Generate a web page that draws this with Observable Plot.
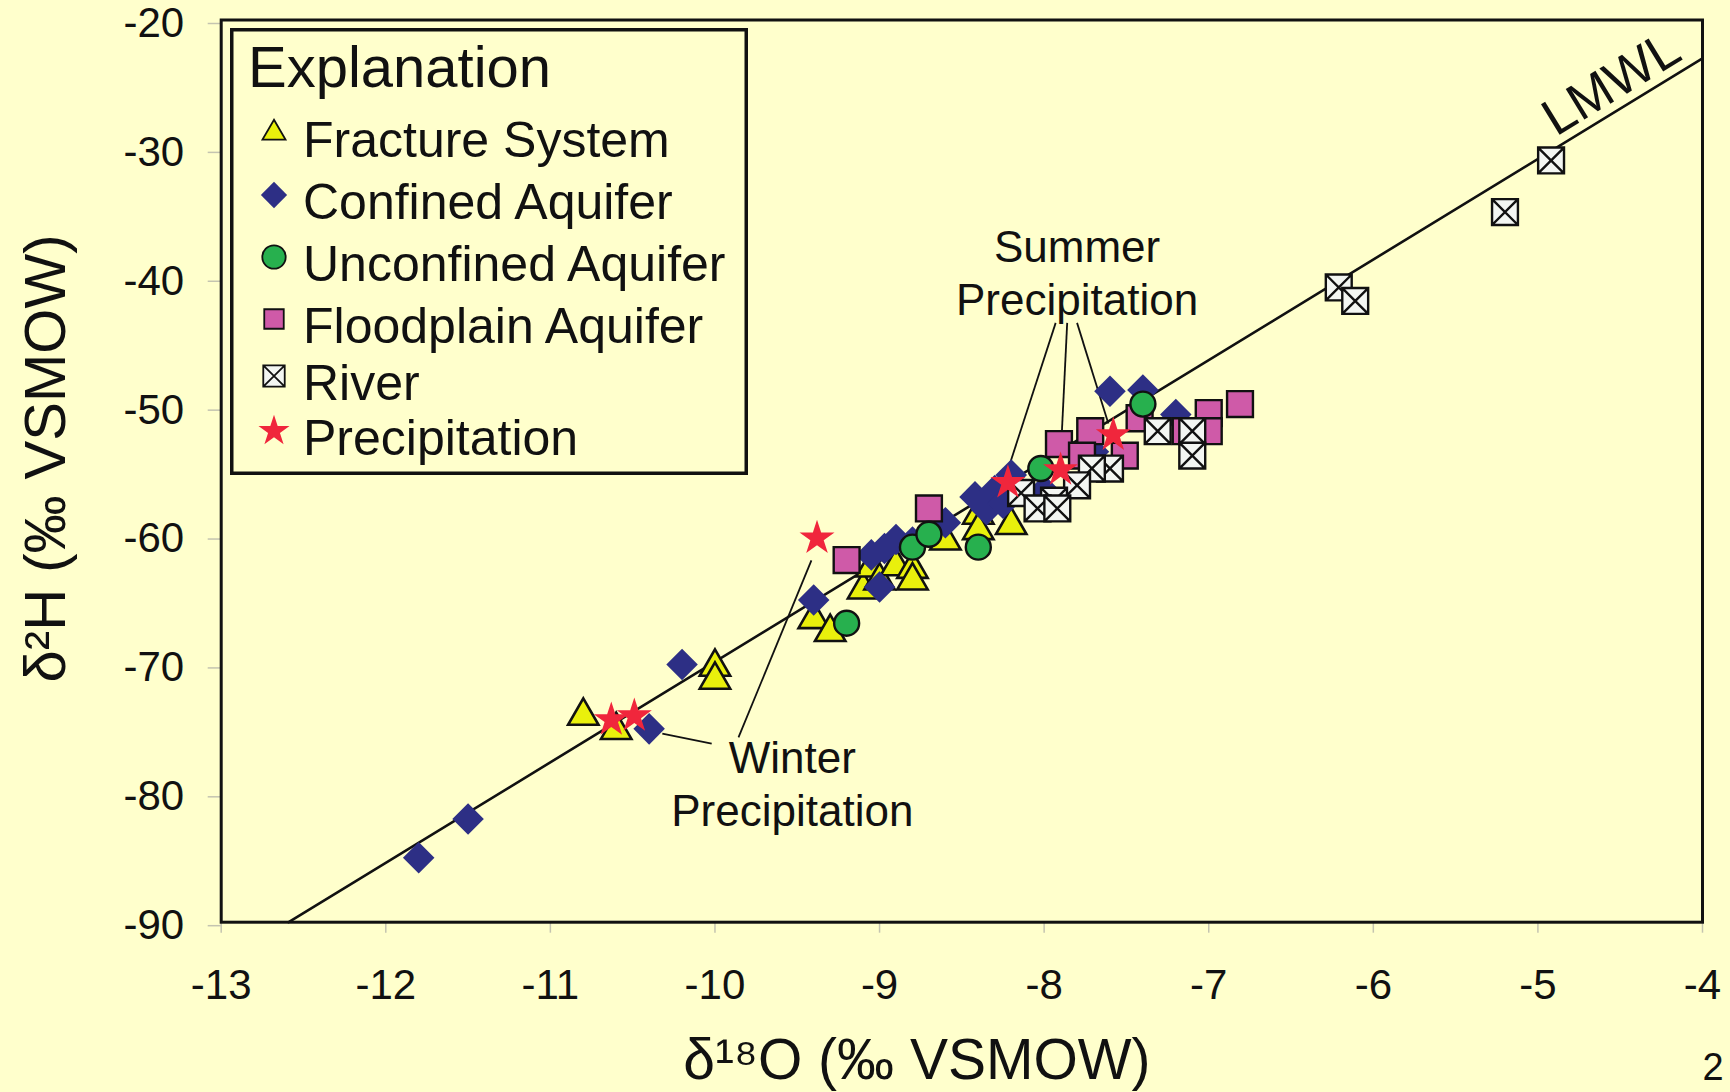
<!DOCTYPE html>
<html>
<head>
<meta charset="utf-8">
<script src="https://cdn.jsdelivr.net/npm/d3@7"></script>
<script src="https://cdn.jsdelivr.net/npm/@observablehq/plot@0.6"></script>
<style>
  html, body { margin: 0; padding: 0; background: #ffffcc; }
  #wrap { position: relative; width: 1730px; height: 1092px; overflow: hidden; background: #ffffcc; }
  #legend { position: absolute; left: 230px; top: 28px; }
</style>
</head>
<body>
<div id="wrap"></div>
<script>
// ---------- data ----------
const fractureX = [-10.8, -10.6, -10.0, -10.0, -9.4, -9.3, -9.1, -9.05, -9.0, -8.9, -8.8, -8.8, -8.6, -8.4, -8.4, -8.2];
const fractureY = [-74.0, -75.1, -70.2, -71.2, -66.5, -67.5, -64.2, -62.5, -63.5, -62.4, -62.6, -63.5, -60.4, -58.4, -59.6, -59.2];

const confinedX = [-11.8, -11.5, -10.4, -10.2, -9.4, -9.0, -9.05, -8.97, -8.9, -8.8, -8.6, -8.42, -8.35, -8.3, -8.25, -8.2, -8.0, -7.7, -7.6, -7.4, -7.2];
const confinedY = [-85.0, -82.0, -75.0, -70.0, -65.0, -64.0, -61.5, -61.0, -60.3, -60.5, -59.0, -57.0, -58.0, -56.5, -57.5, -55.3, -56.5, -53.5, -48.8, -48.7, -50.6];

const floodX = [-9.2, -8.7, -7.91, -7.72, -7.77, -7.51, -7.42, -7.14, -7.0, -7.0, -6.81];
const floodY = [-61.9, -57.9, -52.9, -51.9, -53.8, -53.8, -50.9, -51.9, -50.5, -51.9, -49.8];

const unconfinedX = [-9.2, -8.8, -8.7, -8.4, -8.02, -7.4];
const unconfinedY = [-66.8, -60.9, -59.9, -60.9, -54.8, -49.8];

const riverX = [-4.92, -5.2, -6.21, -6.11, -7.31, -7.1, -7.1, -7.6, -7.71, -7.8, -7.94, -8.14, -8.04, -7.92];
const riverY = [-30.9, -34.9, -40.75, -41.8, -51.9, -51.9, -53.8, -54.8, -54.8, -56.1, -57.3, -56.7, -57.9, -57.9];

const precipX = [-10.63, -10.49, -9.38, -8.22, -7.9, -7.58];
const precipY = [-74.3, -74.0, -60.2, -55.9, -54.9, -52.2];

// Local meteoric water line end points
const lmwlX = [-12.59, -4.0];
const lmwlY = [-90.0, -22.98];

// Axis ticks
const xTicks = [-13, -12, -11, -10, -9, -8, -7, -6, -5, -4];
const yTicks = [-90, -80, -70, -60, -50, -40, -30, -20];

// Annotations (data coordinates)
const noteText = ["Summer\nPrecipitation", "Winter\nPrecipitation"];
const noteX = [-7.80, -9.53];
const noteY = [-39.55, -79.19];

const leaderX1 = [-7.93, -7.86, -7.80, -9.857, -10.02];
const leaderY1 = [-43.5, -43.5, -43.5, -75.66, -76.15];
const leaderX2 = [-8.21, -7.90, -7.61, -9.414, -10.32];
const leaderY2 = [-54.5, -54.0, -51.3, -61.93, -75.37];

const lmwlLabel = "LMWL";
const lmwlLabelX = [-4.553];
const lmwlLabelY = [-24.93];

const xLabel = "δ¹⁸O (‰ VSMOW)";
const yLabel = "δ²H (‰ VSMOW)";
const pageNumber = "2";
const legendTitle = "Explanation";
const seriesNames = ["Fracture System", "Confined Aquifer", "Unconfined Aquifer", "Floodplain Aquifer", "River", "Precipitation"];

// ---------- build ----------
const pts = (xs, ys) => xs.map((x, i) => ({x, y: ys[i]}));
const fracture = pts(fractureX, fractureY);
const confined = pts(confinedX, confinedY);
const flood = pts(floodX, floodY);
const unconfined = pts(unconfinedX, unconfinedY);
const river = pts(riverX, riverY);
const precip = pts(precipX, precipY);
const lmwl = pts(lmwlX, lmwlY);
const notes = noteText.map((t, i) => ({t, x: noteX[i], y: noteY[i]}));
const leaders = leaderX1.map((x1, i) => ({x1, y1: leaderY1[i], x2: leaderX2[i], y2: leaderY2[i]}));

// boxed X symbol for river samples
const boxX = {
  draw(ctx, size) {
    const h = Math.sqrt(size) / 2;
    ctx.moveTo(-h, -h); ctx.lineTo(h, -h); ctx.lineTo(h, h); ctx.lineTo(-h, h); ctx.closePath();
    ctx.moveTo(-h, -h); ctx.lineTo(h, h);
    ctx.moveTo(h, -h); ctx.lineTo(-h, h);
  }
};

const FONT = "'Liberation Sans', Arial, Helvetica, sans-serif";
const INK = "#111";

const styles = {
  fracture: {symbol: d3.symbolTriangle, fill: "#e9f00c", stroke: INK, strokeWidth: 2.6},
  confined: {symbol: d3.symbolDiamond2, fill: "#2d2f85", stroke: "none", strokeWidth: 0},
  unconfined: {symbol: d3.symbolCircle, fill: "#27b04e", stroke: INK, strokeWidth: 2.4},
  flood: {symbol: d3.symbolSquare, fill: "#cf5aa8", stroke: INK, strokeWidth: 2.4},
  river: {symbol: boxX, fill: "#f3f6f2", stroke: INK, strokeWidth: 2.4},
  precip: {symbol: d3.symbolStar, fill: "#f0263c", stroke: "none", strokeWidth: 0}
};

const chart = Plot.plot({
  width: 1730,
  height: 1092,
  marginTop: 19.5,
  marginBottom: 170.3,
  marginLeft: 220.7,
  marginRight: 28,
  x: {domain: [-13, -4]},
  y: {domain: [-90, -20]},
  style: {background: "#ffffcc", fontFamily: FONT, color: INK, overflow: "hidden"},
  marks: [
    Plot.axisX({ticks: xTicks, tickFormat: d => String(d), tickSize: 11, tickPadding: 36, fontSize: 42, label: null, stroke: "#c4c4b0", strokeWidth: 1.5, fill: INK}),
    Plot.axisY({ticks: yTicks, tickFormat: d => String(d), tickSize: 13, tickPadding: 24, fontSize: 42, label: null, dy: 3.5, stroke: "#c4c4b0", strokeWidth: 1.5, fill: INK}),
    Plot.line(lmwl, {x: "x", y: "y", stroke: INK, strokeWidth: 2.6}),
    Plot.link(leaders, {x1: "x1", y1: "y1", x2: "x2", y2: "y2", stroke: INK, strokeWidth: 1.8}),
    Plot.dot(fracture, {x: "x", y: "y", r: 11.3, ...styles.fracture}),
    Plot.dot(confined, {x: "x", y: "y", r: 14.2, ...styles.confined}),
    Plot.dot(flood, {x: "x", y: "y", r: 14.6, ...styles.flood}),
    Plot.dot(unconfined, {x: "x", y: "y", r: 12.5, ...styles.unconfined}),
    Plot.dot(river, {x: "x", y: "y", r: 14.6, ...styles.river}),
    Plot.dot(precip, {x: "x", y: "y", r: 11, ...styles.precip}),
    Plot.text(notes, {x: "x", y: "y", text: "t", fontSize: 44, lineHeight: 1.2, textAnchor: "middle", fill: INK}),
    Plot.text([lmwlLabel], {x: lmwlLabelX, y: lmwlLabelY, text: d => d, rotate: -31.4, fontSize: 52, textAnchor: "middle", lineAnchor: "middle", fill: INK}),
    Plot.frame({stroke: INK, strokeWidth: 3}),
    Plot.text([xLabel], {frameAnchor: "bottom", text: d => d, dx: -45, dy: 139, fontSize: 57, lineAnchor: "middle", textAnchor: "middle", fill: INK}),
    Plot.text([yLabel], {frameAnchor: "left", text: d => d, rotate: -90, dx: -175, dy: -12.6, fontSize: 58, lineAnchor: "middle", textAnchor: "middle", fill: INK}),
    Plot.text([pageNumber], {frameAnchor: "bottom-right", text: d => d, dx: 0, dy: 146, fontSize: 38, textAnchor: "start", lineAnchor: "middle", fill: INK})
  ]
});

const wrap = document.getElementById("wrap");
wrap.appendChild(chart);

// ---------- legend (Explanation box) ----------
const LW = 518, LH = 447;
const legend = d3.create("svg")
  .attr("id", "legend")
  .attr("width", LW).attr("height", LH)
  .style("font-family", FONT);
legend.append("rect")
  .attr("x", 1.75).attr("y", 1.75).attr("width", LW - 3.5).attr("height", LH - 3.5)
  .attr("fill", "#ffffcc").attr("stroke", INK).attr("stroke-width", 3.5);
legend.append("text")
  .attr("x", 18).attr("y", 59).attr("font-size", 58).attr("fill", INK).text(legendTitle);

const legendStyles = [styles.fracture, styles.confined, styles.unconfined, styles.flood, styles.river, styles.precip];
const legendSizes = [230, 440, 430, 380, 460, 300];
const baselines = [129, 191, 253, 315, 372, 427];
seriesNames.forEach((name, i) => {
  const s = legendStyles[i];
  legend.append("path")
    .attr("transform", `translate(44,${baselines[i] - 24})`)
    .attr("d", d3.symbol().type(s.symbol).size(legendSizes[i])())
    .attr("fill", s.fill).attr("stroke", s.stroke).attr("stroke-width", s.strokeWidth ? 1.8 : 0);
  legend.append("text")
    .attr("x", 73).attr("y", baselines[i]).attr("font-size", 50).attr("fill", INK).text(name);
});
wrap.appendChild(legend.node());
</script>
</body>
</html>
